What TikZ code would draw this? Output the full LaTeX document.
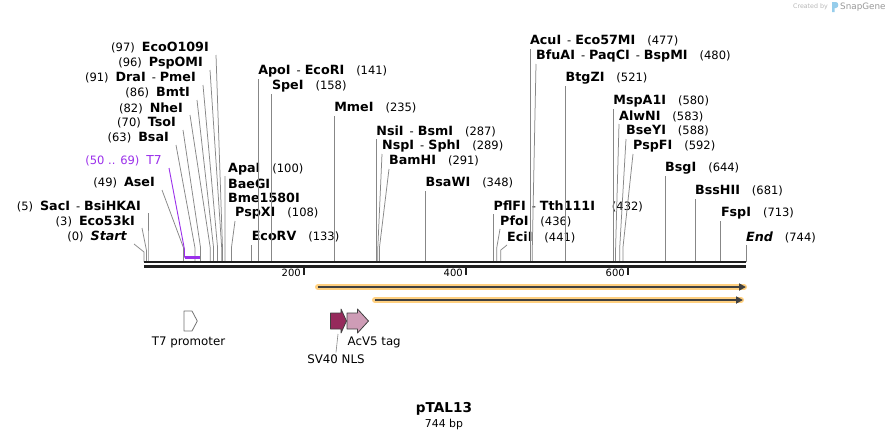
\documentclass[tikz,border=0pt]{standalone}
\usepackage{fontspec}
\setmainfont{DejaVu Sans}
\usepackage{xcolor}
\usetikzlibrary{arrows.meta}

\definecolor{sitegray}{RGB}{135,135,135}
\definecolor{tsevenpurple}{RGB}{155,48,235}
\definecolor{glowc}{RGB}{255,208,128}
\definecolor{orfgray}{RGB}{64,64,64}
\definecolor{nlsfill}{RGB}{150,42,92}
\definecolor{tagfill}{RGB}{206,156,182}
\definecolor{logoblue}{RGB}{150,205,235}

\newcommand{\enz}[1]{{\fontsize{12.7}{14}\selectfont\bfseries #1}}
\newcommand{\cutsep}{\hspace{6pt}-\hspace{4pt}}
\newcommand{\lpos}[1]{(#1)\hspace{7pt}}
\newcommand{\rpos}[1]{\hspace{12pt}(#1)}

\begin{document}
\begin{tikzpicture}[x=1pt,y=-1pt,
	lbl/.style={inner sep=0pt,font=\fontsize{11.5}{13}\selectfont},
	lleft/.style={lbl,anchor=east},
	lright/.style={lbl,anchor=west},
	leader/.style={draw=sitegray,line width=0.75pt},
	rulertick/.style={draw=black!88,line width=1.8pt},
	glow/.style={draw=glowc,line width=6pt,line cap=round},
	orf/.style={draw=orfgray,line width=1.8pt,-{Triangle[length=7pt,width=7pt]}},
	featbox/.style={draw=black!75,line width=0.8pt,line join=round},
	featlbl/.style={inner sep=0pt,font=\fontsize{11.8}{14}\selectfont}]

	\useasboundingbox[fill=white] (0,0) rectangle (890,440);

	% cut sites on the backbone
	\coordinate (cStart) at (144,262);
	\coordinate (cEco53kI) at (146.4,262);
	\coordinate (cSacI) at (148,262);
	\coordinate (cAseI) at (183.6,262);
	\coordinate (cBsaI) at (195,262);
	\coordinate (cTsoI) at (200.6,262);
	\coordinate (cNheI) at (210.3,262);
	\coordinate (cBmtI) at (213.6,262);
	\coordinate (cDraI) at (217.6,262);
	\coordinate (cPspOMI) at (221.7,262);
	\coordinate (cEcoO109I) at (222.5,262);
	\coordinate (cApaI) at (224.9,262);
	\coordinate (cPspXI) at (231.4,262);
	\coordinate (cEcoRV) at (251.6,262);
	\coordinate (cApoI) at (258.1,262);
	\coordinate (cSpeI) at (271.8,262);
	\coordinate (cMmeI) at (334.1,262);
	\coordinate (cNsiI) at (376.2,262);
	\coordinate (cNspI) at (377.8,262);
	\coordinate (cBamHI) at (379.4,262);
	\coordinate (cBsaWI) at (425.5,262);
	\coordinate (cPflFI) at (493.5,262);
	\coordinate (cPfoI) at (496.7,262);
	\coordinate (cEciI) at (500.8,262);
	\coordinate (cAcuI) at (529.9,262);
	\coordinate (cBfuAI) at (532.3,262);
	\coordinate (cBtgZI) at (565.5,262);
	\coordinate (cMspA1I) at (613.2,262);
	\coordinate (cAlwNI) at (615.6,262);
	\coordinate (cBseYI) at (619.7,262);
	\coordinate (cPspFI) at (622.9,262);
	\coordinate (cBsgI) at (665,262);
	\coordinate (cBssHII) at (694.9,262);
	\coordinate (cFspI) at (720.8,262);
	\coordinate (cEnd) at (745.9,262);

	% labels left of their sites
	\node[lleft] (lEcoO109I) at (209,48) {\lpos{97}\enz{EcoO109I}};
	\node[lleft] (lPspOMI) at (203,63) {\lpos{96}\enz{PspOMI}};
	\node[lleft] (lDraI) at (196,78) {\lpos{91}\enz{DraI}\cutsep\enz{PmeI}};
	\node[lleft] (lBmtI) at (190,93) {\lpos{86}\enz{BmtI}};
	\node[lleft] (lNheI) at (183,108) {\lpos{82}\enz{NheI}};
	\node[lleft] (lTsoI) at (176,123) {\lpos{70}\enz{TsoI}};
	\node[lleft] (lBsaI) at (169,138) {\lpos{63}\enz{BsaI}};
	\node[lleft,text=tsevenpurple] (lT7) at (162,161) {\lpos{50 .. 69}{\fontsize{12.3}{14}\selectfont T7}};
	\node[lleft] (lAseI) at (155,183) {\lpos{49}\enz{AseI}};
	\node[lleft] (lSacI) at (141,206) {\lpos{5}\enz{SacI}\cutsep\enz{BsiHKAI}};
	\node[lleft] (lEco53kI) at (135,221) {\lpos{3}\enz{Eco53kI}};
	\node[lleft] (lStart) at (127,237) {\lpos{0}\enz{\itshape Start}};

	% labels right of their sites
	\node[lright] (lApoI) at (258.1,71) {\enz{ApoI}\cutsep\enz{EcoRI}\rpos{141}};
	\node[lright] (lSpeI) at (271.8,86) {\enz{SpeI}\rpos{158}};
	\node[lright] (lMmeI) at (334.1,108) {\enz{MmeI}\rpos{235}};
	\node[lright] (lNsiI) at (376.2,131) {\enz{NsiI}\cutsep\enz{BsmI}\rpos{287}};
	\node[lright] (lNspI) at (382,146) {\enz{NspI}\cutsep\enz{SphI}\rpos{289}};
	\node[lright] (lBamHI) at (389,161) {\enz{BamHI}\rpos{291}};
	\node[lright] (lBsaWI) at (425.5,183) {\enz{BsaWI}\rpos{348}};
	\node[lright] (lApaI) at (228,169) {\enz{ApaI}\rpos{100}};
	\node[lright] (lBaeGI) at (228,184) {\enz{BaeGI}};
	\node[lright] (lBme1580I) at (228,198) {\enz{Bme1580I}};
	\node[lright] (lPspXI) at (235,213) {\enz{PspXI}\rpos{108}};
	\node[lright] (lEcoRV) at (251.6,237) {\enz{EcoRV}\rpos{133}};
	\node[lright] (lPflFI) at (493.5,206) {\enz{PflFI}\cutsep\enz{Tth111I}\hspace{17pt}(432)};
	\node[lright] (lPfoI) at (500,221) {\enz{PfoI}\rpos{436}};
	\node[lright] (lEciI) at (507,237) {\enz{EciI}\rpos{441}};
	\node[lright] (lAcuI) at (529.9,41) {\enz{AcuI}\cutsep\enz{Eco57MI}\rpos{477}};
	\node[lright] (lBfuAI) at (536,56) {\enz{BfuAI}\cutsep\enz{PaqCI}\cutsep\enz{BspMI}\rpos{480}};
	\node[lright] (lBtgZI) at (565.5,78) {\enz{BtgZI}\rpos{521}};
	\node[lright] (lMspA1I) at (613.2,101) {\enz{MspA1I}\rpos{580}};
	\node[lright] (lAlwNI) at (619,116) {\enz{AlwNI}\rpos{583}};
	\node[lright] (lBseYI) at (626,131) {\enz{BseYI}\rpos{588}};
	\node[lright] (lPspFI) at (633,146) {\enz{PspFI}\rpos{592}};
	\node[lright] (lBsgI) at (665,168) {\enz{BsgI}\rpos{644}};
	\node[lright] (lBssHII) at (694.9,191) {\enz{BssHII}\rpos{681}};
	\node[lright] (lFspI) at (720.8,213) {\enz{FspI}\rpos{713}};
	\node[lright] (lEnd) at (745.9,237) {\enz{\itshape End}\rpos{744}};

	% leaders, left side
	\draw[leader] (cEcoO109I) -- ++(0,-14) -- ([xshift=7pt,yshift=-7pt]lEcoO109I.east);
	\draw[leader] (cPspOMI) -- ++(0,-14) -- ([xshift=7pt,yshift=-7pt]lPspOMI.east);
	\draw[leader] (cDraI) -- ++(0,-14) -- ([xshift=7pt,yshift=-7pt]lDraI.east);
	\draw[leader] (cBmtI) -- ++(0,-14) -- ([xshift=7pt,yshift=-7pt]lBmtI.east);
	\draw[leader] (cNheI) -- ++(0,-14) -- ([xshift=7pt,yshift=-7pt]lNheI.east);
	\draw[leader] (cTsoI) -- ++(0,-14) -- ([xshift=7pt,yshift=-7pt]lTsoI.east);
	\draw[leader] (cBsaI) -- ++(0,-14) -- ([xshift=7pt,yshift=-7pt]lBsaI.east);
	\draw[leader] (cAseI) -- ++(0,-14) -- ([xshift=7pt,yshift=-7pt]lAseI.east);
	\draw[leader] (cSacI) -- ++(0,-14) -- ([xshift=7pt,yshift=-7pt]lSacI.east);
	\draw[leader] (cEco53kI) -- ++(0,-12) -- ([xshift=7pt,yshift=-7pt]lEco53kI.east);
	\draw[leader] (cStart) -- ++(0,-10) -- ([xshift=7pt,yshift=-7pt]lStart.east);

	% leaders, right side
	\draw[leader] (cApoI) -- ++(0,-14) -- ([yshift=-8pt]lApoI.west);
	\draw[leader] (cSpeI) -- ++(0,-14) -- ([yshift=-8pt]lSpeI.west);
	\draw[leader] (cMmeI) -- ++(0,-14) -- ([yshift=-8pt]lMmeI.west);
	\draw[leader] (cNsiI) -- ++(0,-14) -- ([yshift=-8pt]lNsiI.west);
	\draw[leader] (cNspI) -- ++(0,-14) -- ([yshift=-8pt]lNspI.west);
	\draw[leader] (cBamHI) -- ++(0,-14) -- ([yshift=-8pt]lBamHI.west);
	\draw[leader] (cBsaWI) -- ++(0,-14) -- ([yshift=-8pt]lBsaWI.west);
	\draw[leader] (cApaI) -- ++(0,-14) -- ([xshift=-3pt,yshift=-7pt]lApaI.west);
	\draw[leader] (cPspXI) -- ++(0,-14) -- ([yshift=-8pt]lPspXI.west);
	\draw[leader] (cEcoRV) -- ([yshift=-8pt]lEcoRV.west);
	\draw[leader] (cPflFI) -- ++(0,-14) -- ([yshift=-8pt]lPflFI.west);
	\draw[leader] (cPfoI) -- ++(0,-14) -- ([yshift=-8pt]lPfoI.west);
	\draw[leader] (cEciI) -- ++(0,-12) -- ([yshift=-8pt]lEciI.west);
	\draw[leader] (cAcuI) -- ++(0,-14) -- ([yshift=-8pt]lAcuI.west);
	\draw[leader] (cBfuAI) -- ++(0,-14) -- ([yshift=-8pt]lBfuAI.west);
	\draw[leader] (cBtgZI) -- ++(0,-14) -- ([yshift=-8pt]lBtgZI.west);
	\draw[leader] (cMspA1I) -- ++(0,-14) -- ([yshift=-8pt]lMspA1I.west);
	\draw[leader] (cAlwNI) -- ++(0,-14) -- ([yshift=-8pt]lAlwNI.west);
	\draw[leader] (cBseYI) -- ++(0,-14) -- ([yshift=-8pt]lBseYI.west);
	\draw[leader] (cPspFI) -- ++(0,-14) -- ([yshift=-8pt]lPspFI.west);
	\draw[leader] (cBsgI) -- ++(0,-14) -- ([yshift=-8pt]lBsgI.west);
	\draw[leader] (cBssHII) -- ++(0,-14) -- ([yshift=-8pt]lBssHII.west);
	\draw[leader] (cFspI) -- ++(0,-14) -- ([yshift=-8pt]lFspI.west);
	\draw[leader] (cEnd) -- ([yshift=-8pt]lEnd.west);

	% T7 feature mark
	\coordinate (fT7a) at (184.5,257.5);
	\coordinate (fT7b) at (199.8,257.5);
	\draw[draw=tsevenpurple,line width=0.9pt] (fT7a) -- ++(0,-8) -- ([xshift=7pt,yshift=-7pt]lT7.east);
	\draw[draw=tsevenpurple,line width=2.6pt] (fT7a) -- (fT7b);

	% backbone
	\draw[draw=black!88,line width=2.2pt] (cStart) -- (cEnd);
	\draw[draw=black!88,line width=3pt] ([yshift=-4.6pt]cStart) -- ([yshift=-4.6pt]cEnd);

	% ruler
	\coordinate (t200) at (304,268);
	\coordinate (t400) at (466,268);
	\coordinate (t600) at (628,268);
	\draw[rulertick] (t200) -- ++(0,7);
	\draw[rulertick] (t400) -- ++(0,7);
	\draw[rulertick] (t600) -- ++(0,7);
	\node[lbl,anchor=east,font=\fontsize{10}{12}\selectfont] (n200) at ([xshift=-3pt,yshift=-5pt]t200) {200};
	\node[lbl,anchor=east,font=\fontsize{10}{12}\selectfont] (n400) at ([xshift=-3pt,yshift=-5pt]t400) {400};
	\node[lbl,anchor=east,font=\fontsize{10}{12}\selectfont] (n600) at ([xshift=-3pt,yshift=-5pt]t600) {600};

	% open reading frames
	\coordinate (orfAa) at (318,287);
	\coordinate (orfAb) at (746,287);
	\coordinate (orfBa) at (375,300);
	\coordinate (orfBb) at (743,300);
	\draw[glow] (orfAa) -- ([xshift=-2pt]orfAb);
	\draw[glow] (orfBa) -- ([xshift=-2pt]orfBb);
	\draw[orf] (orfAa) -- (orfAb);
	\draw[orf] (orfBa) -- (orfBb);

	% features
	\draw[featbox,fill=white,draw=black!55] (184,311) -- (192,311) -- (197.3,321) -- (192,331) -- (184,331) -- cycle;
	\draw[featbox,fill=nlsfill] (330.5,313) -- (341,313) -- (341,309) -- (346.5,321) -- (341,333) -- (341,329) -- (330.5,329) -- cycle;
	\draw[featbox,fill=tagfill] (347,313) -- (357.5,313) -- (357.5,309) -- (368.5,321) -- (357.5,333) -- (357.5,329) -- (347,329) -- cycle;
	\coordinate (fNLS) at (338,334);
	\node[featlbl] (lT7prom) at (188.5,342) {T7 promoter};
	\node[featlbl,anchor=west] (lAcV5) at (347.5,342) {AcV5 tag};
	\node[featlbl] (lNLS) at (336,359) {SV40 NLS};
	\draw[leader,line width=0.6pt] (fNLS) -- ([yshift=2pt]lNLS.north);

	% title
	\node[inner sep=0pt,font=\fontsize{13.6}{16}\selectfont\bfseries] (title) at (444,409) {pTAL13};
	\node[inner sep=0pt,font=\fontsize{10.9}{13}\selectfont] (size) at (444,424) {744 bp};

	% credit
	\node[inner sep=0pt,anchor=east,text=black!28,font=\fontsize{6.3}{7}\selectfont] (credit) at (828,7) {Created by};
	\fill[logoblue] (832,2) -- (836,2) .. controls (839,2) and (839,8) .. (836,8) -- (834.5,8) -- (834.5,12) -- (832,12) -- cycle;
	\node[inner sep=0pt,anchor=west,text=black!40,font=\fontsize{8.8}{10}\selectfont] (brand) at (840,7) {SnapGene};
\end{tikzpicture}
\end{document}
